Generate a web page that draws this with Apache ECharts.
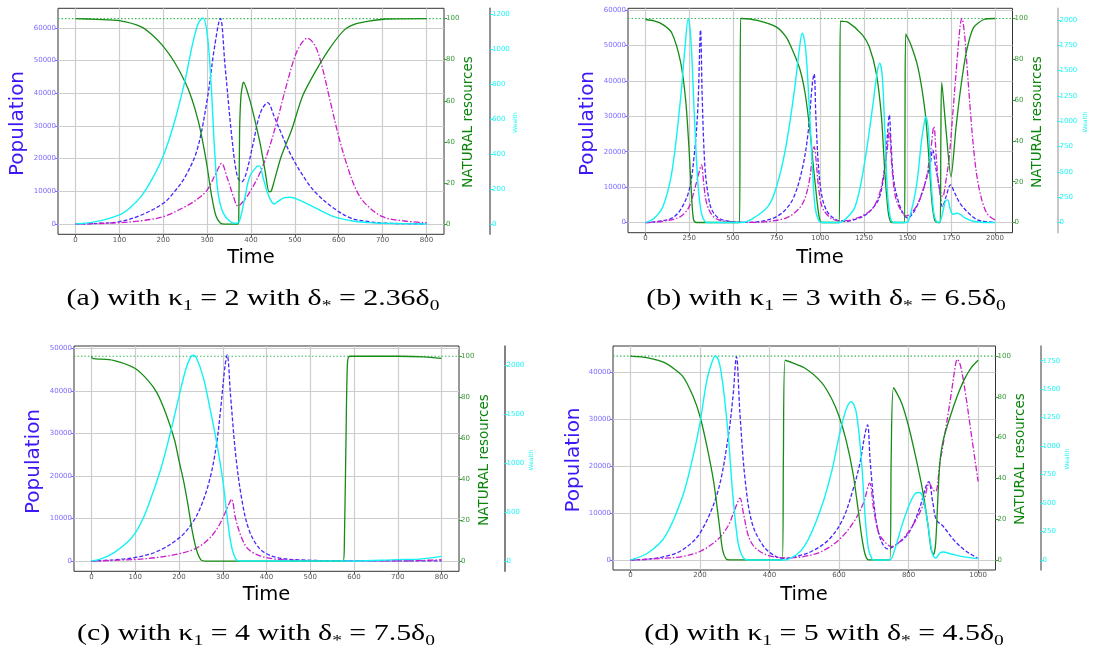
<!DOCTYPE html>
<html><head><meta charset="utf-8">
<script src="https://cdn.jsdelivr.net/npm/echarts@6/dist/echarts.min.js"></script>
<style>html,body{margin:0;padding:0;background:#fff}#c{width:1094px;height:653px}</style>
</head><body><div id="c"></div>
<script>
// ---------- tick labels ----------
const xTicksA = [0,100,200,300,400,500,600,700,800];
const xTicksB = [0,250,500,750,1000,1250,1500,1750,2000];
const xTicksC = [0,100,200,300,400,500,600,700,800];
const xTicksD = [0,200,400,600,800,1000];
const popTicksA = [0,10000,20000,30000,40000,50000,60000];
const popTicksB = [0,10000,20000,30000,40000,50000,60000];
const popTicksC = [0,10000,20000,30000,40000,50000];
const popTicksD = [0,10000,20000,30000,40000];
const natTicks = [0,20,40,60,80,100];
const wTicksA = [0,200,400,600,800,1000,1200];
const wTicksB = [0,250,500,750,1000,1250,1500,1750,2000];
const wTicksC = [0,500,1000,1500,2000];
const wTicksD = [0,250,500,750,1000,1250,1500,1750];
const capacity = 100;

// ---------- panel (a) ----------
const aCommoners = [[0,0],[50,200],[100,714],[150,2755],[200,6327],[225,9800],[250,14490],[277,22650],[300,37960],[317,54285],[330,62960],[341,48160],[357,25714],[369,14490],[379,12960],[389,15510],[405,24700],[421,33880],[438,37140],[453,32860],[469,27755],[493,20610],[525,13470],[549,9390],[589,4800],[629,1735],[669,714],[700,300],[750,100],[800,50]];
const aElites = [[0,0],[50,150],[100,400],[150,1000],[200,2245],[250,5306],[280,7857],[300,10400],[320,15510],[333,18570],[345,14490],[360,8367],[370,5500],[385,7347],[400,10400],[420,15510],[440,22650],[460,31840],[480,42040],[500,51220],[515,55300],[528,56840],[545,54800],[560,49180],[580,37960],[600,26735],[620,17550],[640,10400],[660,6327],[700,2245],[750,918],[800,400]];
const aNature = [[0,100],[50,99.6],[100,99],[150,96],[175,92],[200,86.5],[225,79],[250,69],[265,61],[280,50],[290,40],[300,28],[310,14],[320,4],[330,0.5],[340,0],[370,0],[372,1],[374,45],[377,62],[381,68],[383,69],[395,62],[405,54],[421,39],[433,24.7],[441,15.7],[446,16],[453,21],[469,33],[493,46],[517,62],[549,75],[581,86],[613,94.5],[640,97.5],[669,98.8],[709,99.8],[800,100]];
const aWealth = [[0,0],[50,15],[100,52],[125,95],[150,160],[175,260],[200,390],[225,580],[250,826],[260,950],[269,1055],[280,1150],[290,1181],[300,1093],[309,806],[317,424],[325,176],[337,61],[353,13],[365,4],[373,13],[385,138],[397,271],[413,329],[419,333],[429,252],[441,157],[453,115],[461,128],[477,151],[489,153],[509,138],[549,90],[589,42],[629,19],[669,8],[700,4],[800,0]];

// ---------- panel (b) ----------
const bCommoners = [[0,0],[100,564],[150,1222],[200,3573],[250,9216],[280,19560],[300,32725],[315,54355],[325,34600],[340,15800],[360,7335],[380,3573],[420,1222],[480,376],[550,100],[600,80],[650,282],[700,752],[750,1693],[800,3573],[850,7335],[900,15800],[930,25200],[955,39300],[965,41940],[975,29900],[990,15800],[1010,7335],[1040,3103],[1080,1128],[1120,376],[1150,376],[1200,940],[1250,1880],[1300,4043],[1340,7335],[1370,15800],[1385,25200],[1395,30375],[1405,22380],[1420,12040],[1450,5454],[1480,2163],[1500,1300],[1530,2633],[1560,5454],[1600,11100],[1630,16740],[1643,20500],[1660,15800],[1680,10160],[1700,4514],[1720,7335],[1745,10626],[1770,8275],[1800,5454],[1850,2633],[1900,752],[1950,282],[2000,50]];
const bElites = [[0,0],[100,376],[200,1693],[250,4514],[280,9216],[305,13900],[320,16270],[335,10160],[350,5454],[380,2163],[420,752],[500,188],[600,50],[700,282],[800,1222],[850,2633],[900,5454],[935,11100],[955,18620],[965,21440],[975,18150],[990,10160],[1010,4514],[1050,1693],[1100,564],[1150,564],[1200,1128],[1250,2163],[1300,4043],[1340,8275],[1370,15800],[1385,21440],[1395,25670],[1410,15800],[1430,7335],[1460,3573],[1490,1880],[1520,2633],[1560,5454],[1600,11100],[1630,19560],[1650,27080],[1665,17680],[1680,10160],[1700,7335],[1720,12040],[1740,19560],[1760,31785],[1780,44000],[1800,55300],[1810,57650],[1825,53400],[1840,44000],[1860,30850],[1880,19560],[1900,12040],[1930,5454],[1960,2163],[2000,752]];
const bNature = [[0,99.5],[50,98.8],[100,97],[150,93],[200,79],[230,60],[250,35],[265,11],[275,1.3],[290,0],[538,0],[541,50],[544,100],[550,100],[645,99],[745,96],[804,91],[844,84],[884,75],[914,63],[943,43.5],[960,28],[973,17.5],[993,3],[1010,0],[1109,0],[1112,50],[1115,98.7],[1162,98],[1241,92],[1281,86],[1321,73],[1350,52],[1370,24],[1390,4.5],[1410,0],[1482,0],[1485,50],[1489,92.5],[1519,87],[1559,76],[1599,55],[1619,35],[1638,11],[1654,1.3],[1670,0],[1686,0],[1690,40],[1695,68.7],[1720,45],[1748,22.4],[1777,46.8],[1807,68],[1837,84],[1877,95.5],[1936,99.5],[2000,100]];
const bWealth = [[0,0],[50,43],[100,158],[150,487],[200,1210],[225,1704],[245,2016],[260,1803],[280,1046],[300,388],[320,92],[340,10],[360,0],[550,0],[600,26],[700,158],[750,355],[800,717],[850,1276],[880,1704],[897,1868],[915,1737],[935,1210],[955,553],[970,158],[990,26],[1010,0],[1110,0],[1150,43],[1200,158],[1250,553],[1300,1145],[1325,1474],[1340,1572],[1355,1441],[1370,882],[1385,289],[1400,59],[1420,0],[1490,0],[1510,43],[1550,355],[1580,816],[1600,1030],[1605,1046],[1620,882],[1635,388],[1650,92],[1665,10],[1680,0],[1700,92],[1715,207],[1728,224],[1745,125],[1760,82],[1780,92],[1800,82],[1830,43],[1870,16],[1920,3],[2000,0]];

// ---------- panel (c) ----------
const cCommoners = [[0,0],[50,313],[100,862],[150,2273],[200,5408],[230,8934],[250,12850],[270,19120],[285,26960],[295,35580],[305,45770],[310,48510],[318,38710],[330,24610],[345,13640],[360,7367],[380,3448],[400,1724],[430,705],[470,313],[550,100],[800,50]];
const cElites = [[0,0],[100,392],[150,862],[200,1724],[240,3056],[270,5408],[290,8150],[305,11285],[315,13640],[320,14577],[330,9718],[345,5016],[360,2665],[385,1254],[420,470],[480,150],[600,50],[700,50],[800,313]];
const cNature = [[0,100],[2,99],[50,98],[100,94],[130,88],[150,82],[170,72],[190,59],[200,49],[210,39.6],[220,28],[230,15],[240,5.5],[250,0.6],[260,0],[575,0],[578,9],[582,64],[585,96.4],[590,100],[700,100],[760,99.7],[800,99]];
const cWealth = [[0,0],[20,20],[50,82],[80,184],[100,286],[120,456],[140,695],[160,968],[180,1308],[200,1683],[215,1956],[225,2075],[232,2106],[240,2075],[255,1888],[270,1581],[285,1240],[300,831],[310,456],[320,150],[330,20],[340,0],[600,0],[700,14],[750,20],[800,48]];

// ---------- panel (d) ----------
const dCommoners = [[0,0],[50,213],[100,780],[150,2200],[200,5745],[250,14250],[280,25600],[295,34820],[305,43330],[315,31280],[330,17090],[350,7872],[380,3262],[410,1135],[440,355],[470,638],[520,1844],[570,4326],[610,8580],[640,14960],[660,20640],[675,27020],[682,28800],[690,20640],[705,9290],[720,4326],[740,2400],[770,3617],[800,5745],[830,10710],[850,15670],[858,16740],[870,12130],[880,8580],[900,7163],[930,4326],[960,2200],[990,780],[1000,355]];
const dElites = [[0,0],[100,425],[150,780],[200,1844],[250,4326],[280,7163],[300,10710],[315,13190],[325,10000],[340,5035],[360,2553],[400,922],[450,496],[500,780],[550,1844],[600,4326],[640,7872],[670,12130],[688,16380],[700,10710],[715,5745],[735,3617],[750,2908],[780,4326],[810,7163],[840,11420],[860,16380],[870,14960],[878,14610],[890,20640],[900,24890],[920,34110],[935,41560],[940,42760],[950,41200],[965,34820],[980,27020],[1000,16740]];
const dNature = [[0,100],[50,99.2],[100,96.7],[150,90.2],[180,80.4],[200,70.5],[220,55.8],[240,37.8],[255,18.2],[265,5],[275,0.5],[285,0],[437,0],[440,50],[445,98],[500,94.3],[550,87],[580,78.7],[600,70.5],[620,59],[640,42.7],[655,24.7],[665,11.6],[675,2.6],[685,0],[746,0],[750,50],[757,84.5],[780,77],[800,65.6],[820,50.9],[840,34.5],[855,18.2],[865,5],[872,2.6],[878,8.3],[885,33],[890,47.6],[900,59],[920,70.5],[940,80.4],[960,88.5],[980,94.3],[1000,98]];
const dWealth = [[0,0],[50,61],[100,207],[150,558],[180,908],[200,1200],[220,1580],[235,1741],[245,1791],[260,1668],[280,1142],[295,558],[310,149],[325,18],[340,0],[440,0],[450,3],[500,120],[550,470],[580,792],[600,1084],[620,1318],[635,1390],[650,1288],[665,850],[675,383],[685,90],[695,9],[700,0],[745,0],[760,90],[780,295],[800,470],[820,587],[830,593],[840,558],[855,324],[868,61],[878,15],[890,61],[900,70],[920,55],[950,32],[1000,12]];

// ---------- captions ----------
const captions = [
  ['(a) with κ','1',' = 2 with δ','*',' = 2.36δ','0'],
  ['(b) with κ','1',' = 3 with δ','*',' = 6.5δ','0'],
  ['(c) with κ','1',' = 4 with δ','*',' = 7.5δ','0'],
  ['(d) with κ','1',' = 5 with δ','*',' = 4.5δ','0']
];

// ---------- layout ----------
const panels = [
  {grid:[58,8.3,386,226], x:[-40,840], xt:xTicksA, pop:[-3150,66020], pt:popTicksA, nat:[-5,105], w:[-59,1236], wt:wTicksA, woff:46, wcol:'#6e6e6e',
   com:aCommoners, eli:aElites, nature:aNature, wealth:aWealth,
   popLbl:[18,123.5], natLbl:[468,122], wLbl:[515.5,122.5], timeLbl:[251,258], cap:[253,299]},
  {grid:[628,8.3,384.5,224.4], x:[-100,2100], xt:xTicksB, pop:[-2850,60470], pt:popTicksB, nat:[-5,105], w:[-100,2115], wt:wTicksB, woff:45, wcol:'#b4b4b4',
   com:bCommoners, eli:bElites, nature:bNature, wealth:bWealth,
   popLbl:[588,123.5], natLbl:[1037.5,122], wLbl:[1085,122], timeLbl:[820,258], cap:[826,299]},
  {grid:[74,346,385,225.3], x:[-40,840], xt:xTicksC, pop:[-2400,50630], pt:popTicksC, nat:[-5,105], w:[-105,2201], wt:wTicksC, woff:45.5, wcol:'#5a5a5a',
   com:cCommoners, eli:cElites, nature:cNature, wealth:cWealth,
   popLbl:[34,461.5], natLbl:[484,460], wLbl:[531,460], timeLbl:[266.5,595], cap:[256,634]},
  {grid:[613,346,382.5,224], x:[-50,1050], xt:xTicksD, pop:[-2100,45600], pt:popTicksD, nat:[-5,105], w:[-88,1879], wt:wTicksD, woff:45, wcol:'#7a7a7a',
   com:dCommoners, eli:dElites, nature:dNature, wealth:dWealth,
   popLbl:[573.5,460], natLbl:[1020,459], wLbl:[1067,459], timeLbl:[804,595], cap:[824,634]}
];

const FONT = 'DejaVu Sans';
const C_POP_LBL = '#3a18f8', C_POP_TICK = '#7c6cff';
const C_NAT_LBL = '#0c850c', C_NAT_TICK = '#3a9a3a';
const C_W = '#22f4f4';
const C_COM = '#4526ff', C_ELI = '#cc1ccc', C_NAT = '#168c16', C_WEALTH = '#11f2f2', C_DOT = '#3dbb5a';
const GRIDLINE = '#cdcdcd';
const fmt = v => String(v);

const grids = [], xAxes = [], yAxes = [], series = [], graphics = [];
panels.forEach((p, i) => {
  grids.push({left:p.grid[0], top:p.grid[1], width:p.grid[2], height:p.grid[3], show:true, borderColor:'#333', borderWidth:1});
  xAxes.push({gridIndex:i, type:'value', min:p.x[0], max:p.x[1],
    axisLine:{show:false, onZero:false},
    axisTick:{show:true, length:3, customValues:p.xt, lineStyle:{color:'#555'}},
    axisLabel:{customValues:p.xt, formatter:fmt, fontSize:7, fontFamily:FONT, color:'#555', margin:2},
    splitLine:{show:true, lineStyle:{color:GRIDLINE, width:1.2}}});
  yAxes.push({gridIndex:i, type:'value', position:'left', min:p.pop[0], max:p.pop[1],
    axisLine:{show:false, onZero:false},
    axisTick:{show:true, length:3, customValues:p.pt, lineStyle:{color:C_POP_TICK}},
    axisLabel:{customValues:p.pt, formatter:fmt, fontSize:7, fontFamily:FONT, color:C_POP_TICK, margin:2},
    splitLine:{show:true, lineStyle:{color:GRIDLINE, width:1.2}}});
  yAxes.push({gridIndex:i, type:'value', position:'right', offset:0, min:p.nat[0], max:p.nat[1],
    axisLine:{show:false, onZero:false},
    axisTick:{show:true, length:3, customValues:natTicks, lineStyle:{color:C_NAT_TICK}},
    axisLabel:{customValues:natTicks, formatter:fmt, fontSize:7, fontFamily:FONT, color:C_NAT_TICK, margin:2},
    splitLine:{show:false}});
  yAxes.push({gridIndex:i, type:'value', position:'right', offset:p.woff, min:p.w[0], max:p.w[1],
    axisLine:{show:true, onZero:false, lineStyle:{color:p.wcol, width:1.5}},
    axisTick:{show:true, length:3, customValues:p.wt, lineStyle:{color:C_W}},
    axisLabel:{customValues:p.wt, formatter:fmt, fontSize:7, fontFamily:FONT, color:C_W, margin:2},
    splitLine:{show:false}});
  const base = {type:'line', xAxisIndex:i, showSymbol:false, symbol:'none', silent:true, animation:false, smooth:0.35};
  series.push(Object.assign({}, base, {yAxisIndex:3*i, data:p.com, z:3, lineStyle:{color:C_COM, width:1.3, type:[4,2]}}));
  series.push(Object.assign({}, base, {yAxisIndex:3*i, data:p.eli, z:3, lineStyle:{color:C_ELI, width:1.3, type:[6,2,1.5,2]}}));
  series.push(Object.assign({}, base, {yAxisIndex:3*i+1, data:p.nature, z:4, smooth:0.25, lineStyle:{color:C_NAT, width:1.3}}));
  series.push(Object.assign({}, base, {yAxisIndex:3*i+1, data:[[p.x[0],capacity],[p.x[1],capacity]], z:2, smooth:false, lineStyle:{color:C_DOT, width:1.2, type:[1.5,2]}}));
  series.push(Object.assign({}, base, {yAxisIndex:3*i+2, data:p.wealth, z:5, lineStyle:{color:C_WEALTH, width:1.4}}));

  const t = (x, y, text, size, color, rot) => ({type:'text', x, y, rotation:rot||0, silent:true, z:10,
    style:{text, fontSize:size, fontFamily:FONT, fill:color, align:'center', verticalAlign:'middle', textAlign:'center', textVerticalAlign:'middle'}});
  graphics.push(t(p.popLbl[0], p.popLbl[1], 'Population', 20, C_POP_LBL, Math.PI/2));
  graphics.push(t(p.natLbl[0], p.natLbl[1], 'NATURAL resources', 13.5, C_NAT_LBL, Math.PI/2));
  graphics.push(t(p.wLbl[0], p.wLbl[1], 'Wealth', 6, C_W, Math.PI/2));
  graphics.push(t(p.timeLbl[0], p.timeLbl[1], 'Time', 19.5, '#000', 0));
  const c = captions[i];
  graphics.push({type:'text', x:p.cap[0], y:p.cap[1], scaleX:1.3, silent:true, z:10,
    style:{text:'{n|'+c[0]+'}{s|'+c[1]+'}{n|'+c[2]+'}{s|'+c[3]+'}{n|'+c[4]+'}{s|'+c[5]+'}',
      align:'center', verticalAlign:'middle', textAlign:'center', textVerticalAlign:'middle',
      rich:{
        n:{fontSize:23, fontFamily:'Liberation Serif', fill:'#000', color:'#000', lineHeight:30, verticalAlign:'middle'},
        s:{fontSize:15, fontFamily:'Liberation Serif', fill:'#000', color:'#000', lineHeight:12, verticalAlign:'bottom'}
      }}});
});

const chart = echarts.init(document.getElementById('c'), null, {renderer:'canvas'});
chart.setOption({animation:false, backgroundColor:'#fff', grid:grids, xAxis:xAxes, yAxis:yAxes, series, graphic:graphics});
</script>
</body></html>
